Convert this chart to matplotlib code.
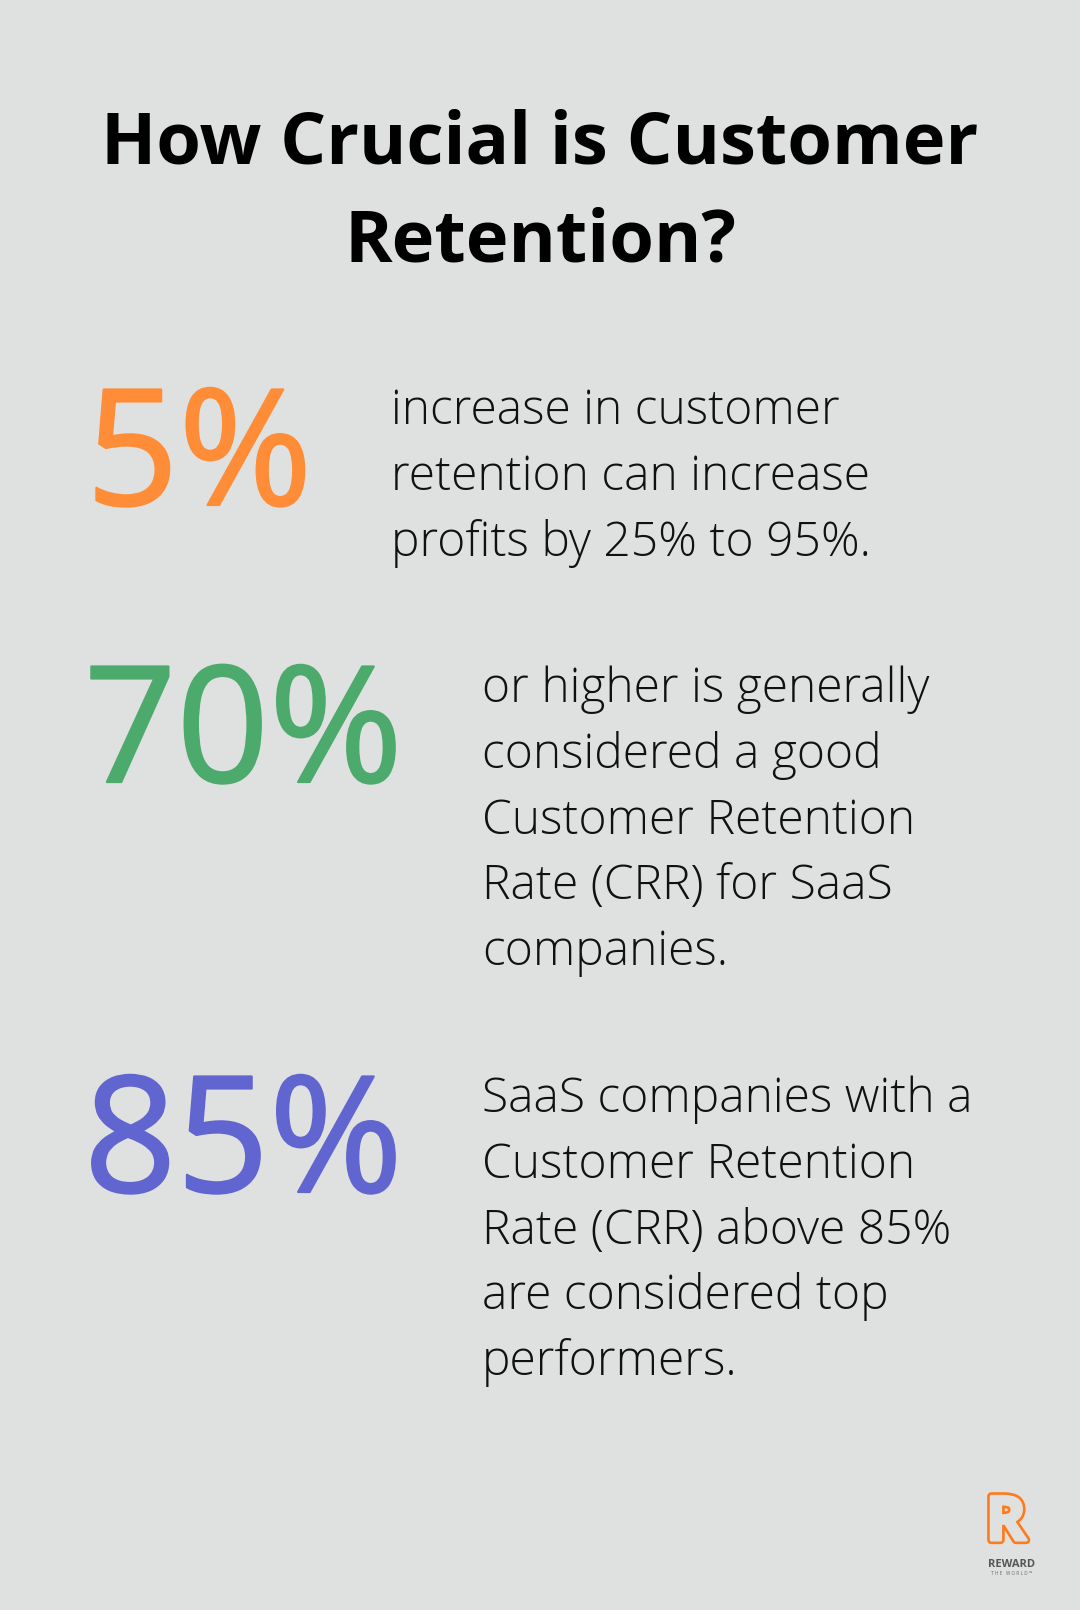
import matplotlib
matplotlib.use("Agg")
import matplotlib.pyplot as plt
import matplotlib.patheffects as pe

# content
title_lines = ["How Crucial is Customer", "Retention?"]
stats = ["5%", "70%", "85%"]
stat_colors = ["#FF8C37", "#4DAA6D", "#6065D0"]
descriptions = [
    ["increase in customer", "retention can increase", "profits by 25% to 95%."],
    ["or higher is generally", "considered a good", "Customer Retention",
     "Rate (CRR) for SaaS", "companies."],
    ["SaaS companies with a", "Customer Retention", "Rate (CRR) above 85%",
     "are considered top", "performers."],
]

bg = "#DFE1E0"
W, H = 1080, 1610

fig = plt.figure(figsize=(W / 100, H / 100), dpi=100, facecolor=bg)
ax = fig.add_axes([0, 0, 1, 1])
ax.set_xlim(0, W)
ax.set_ylim(H, 0)
ax.axis("off")
ax.set_facecolor(bg)

# title
title_base = [164, 262]
for line, y in zip(title_lines, title_base):
    ax.text(W / 2, y, line, ha="center", va="baseline", fontsize=52,
            family="Open Sans", fontweight="bold", color="#000000")

# big numbers and descriptions
stat_x = [86, 84, 84]
stat_base = [505, 782, 1192]
desc_x = [391, 482, 482]
desc_first = [424, 702, 1112]
line_gap = 65.8

for i, s in enumerate(stats):
    # regular weight thickened a bit to match the medium-looking numbers
    ax.text(stat_x[i], stat_base[i], s, ha="left", va="baseline",
            fontsize=116.5, family="Open Sans", fontweight="normal",
            color=stat_colors[i],
            path_effects=[pe.withStroke(linewidth=1.6,
                                        foreground=stat_colors[i])])
    for j, line in enumerate(descriptions[i]):
        ax.text(desc_x[i], desc_first[i] + j * line_gap, line, ha="left",
                va="baseline", fontsize=34.6, family="Open Sans",
                fontweight="light", color="#111111")

# logo
ax.text(1006, 1540, "R", ha="center", va="baseline", fontsize=44,
        family="Open Sans", fontweight="bold", color=bg,
        path_effects=[pe.Stroke(linewidth=6, foreground="#FF7A1A"),
                      pe.Stroke(linewidth=2.2, foreground=bg),
                      pe.Normal()])
ax.text(1012, 1567, "REWARD", ha="center", va="baseline", fontsize=8,
        family="Open Sans", fontweight="bold", color="#555555")
ax.text(1012, 1575, "T H E   W O R L D ™", ha="center", va="baseline",
        fontsize=3.3, family="Open Sans", color="#666666")

fig.savefig("out.png", dpi=100, facecolor=bg)
